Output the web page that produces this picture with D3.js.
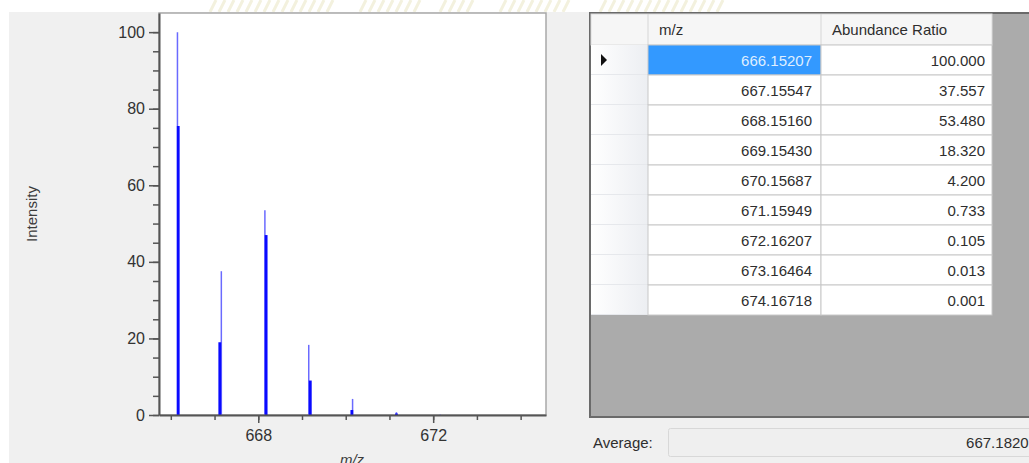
<!DOCTYPE html>
<meta charset="utf-8">
<script src="https://d3js.org/d3.v7.min.js"></script>
<style>
  body { margin: 0; background: #fff; }
  text { font-family: "Liberation Sans", Arial, sans-serif; }
</style>
<body>
  <div id="container"></div>
</body>
<script>
    // isotope pattern: centroid m/z and abundance ratio (table + thin sticks)
    var mz = [666.15207, 667.15547, 668.15160, 669.15430, 670.15687, 671.15949, 672.16207, 673.16464, 674.16718];
    var ratio = [100.000, 37.557, 53.480, 18.320, 4.200, 0.733, 0.105, 0.013, 0.001];
    var mzLabels = ["666.15207", "667.15547", "668.15160", "669.15430", "670.15687", "671.15949", "672.16207", "673.16464", "674.16718"];
    var ratioLabels = ["100.000", "37.557", "53.480", "18.320", "4.200", "0.733", "0.105", "0.013", "0.001"];

    // second (thick) stick series
    var profileMz = [666.17, 667.12, 668.18, 669.19, 670.14, 671.16];
    var profileInt = [75.5, 19.0, 47.0, 9.0, 1.3, 0.4];

    var yMajor = [0, 20, 40, 60, 80, 100];
    var yMinor = d3.range(0, 101, 5);
    var xMajor = [668, 672];
    var xMinor = [666, 667, 668, 669, 670, 671, 672, 673, 674];
    var columns = ["m/z", "Abundance Ratio"];
    var averageLabel = "Average:";
    var averageValue = "667.18209";

    var W = 1029, H = 463;
    var svg = d3.select("#container")
      .append("svg")
      .attr("width", W)
      .attr("height", H);

    // faint watermark band at the top
    var wm = svg.append("g").attr("stroke", "#f3f1de").attr("stroke-width", 3).attr("fill", "none");
    [[210, 330], [360, 420], [440, 470], [500, 570], [600, 720]].forEach(function (r) {
      for (var xx = r[0]; xx < r[1]; xx += 9) {
        wm.append("line").attr("x1", xx).attr("y1", 12).attr("x2", xx + 6).attr("y2", 0);
      }
    });

    // panel background
    svg.append("rect").attr("x", 9).attr("y", 12).attr("width", W - 9).attr("height", H - 12).attr("fill", "#f0f0f0");

    // ---- spectrum plot ----
    var pLeft = 159, pRight = 546, pTop = 13, pBottom = 415;
    var x = d3.scaleLinear().domain([665.73, 674.58]).range([pLeft, pRight]);
    var y = d3.scaleLinear().domain([0, 105]).range([pBottom, pTop]);

    svg.append("rect")
      .attr("x", pLeft).attr("y", pTop)
      .attr("width", pRight - pLeft).attr("height", pBottom - pTop)
      .attr("fill", "#fff").attr("stroke", "#a8a8a8").attr("stroke-width", 1.5);

    // thin sticks
    svg.append("g")
      .selectAll("line")
      .data(mz.map(function (m, i) { return {m: m, v: ratio[i]}; }))
      .enter()
      .append("line")
        .attr("x1", function (d) { return x(d.m); })
        .attr("x2", function (d) { return x(d.m); })
        .attr("y1", y(0))
        .attr("y2", function (d) { return y(d.v); })
        .attr("stroke", "#6a6aff")
        .attr("stroke-width", 1.5);

    // thick sticks
    svg.append("g")
      .selectAll("line")
      .data(profileMz.map(function (m, i) { return {m: m, v: profileInt[i]}; }))
      .enter()
      .append("line")
        .attr("x1", function (d) { return x(d.m); })
        .attr("x2", function (d) { return x(d.m); })
        .attr("y1", y(0))
        .attr("y2", function (d) { return y(d.v); })
        .attr("stroke", "#0a0aff")
        .attr("stroke-width", 2.8);

    // y axis: minor then major ticks
    svg.append("g")
      .attr("transform", "translate(" + pLeft + ",0)")
      .call(d3.axisLeft(y).tickValues(yMinor).tickSize(6).tickSizeOuter(0).tickFormat(""))
      .call(function (g) { g.select(".domain").remove(); });
    svg.append("g")
      .attr("transform", "translate(" + pLeft + ",0)")
      .call(d3.axisLeft(y).tickValues(yMajor).tickSize(10).tickSizeOuter(0).tickPadding(4));

    // x axis
    svg.append("g")
      .attr("transform", "translate(0," + pBottom + ")")
      .call(d3.axisBottom(x).tickValues(xMinor).tickSize(5).tickSizeOuter(0).tickFormat(""))
      .call(function (g) { g.select(".domain").remove(); });
    svg.append("g")
      .attr("transform", "translate(0," + pBottom + ")")
      .call(d3.axisBottom(x).tickValues(xMajor).tickSize(8).tickSizeOuter(0).tickPadding(7));

    svg.selectAll(".tick line").attr("stroke", "#555").attr("stroke-width", 1.5);
    svg.selectAll(".domain").attr("stroke", "#555").attr("stroke-width", 2);
    svg.selectAll(".tick text").attr("font-size", 16).attr("fill", "#333")
      .attr("font-family", "'Liberation Sans', Arial, sans-serif");

    // axis titles
    svg.append("text")
      .attr("transform", "translate(37," + ((pTop + pBottom) / 2) + ") rotate(-90)")
      .attr("text-anchor", "middle")
      .attr("font-size", 15)
      .attr("fill", "#3c3c3c")
      .text("Intensity");
    svg.append("text")
      .attr("x", 352).attr("y", 465)
      .attr("text-anchor", "middle")
      .attr("font-size", 15)
      .attr("font-style", "italic")
      .attr("fill", "#3c3c3c")
      .text("m/z");

    // ---- table ----
    var colX = [591, 648, 821, 992];
    var ty = 14, headH = 31, rowH = 30;
    svg.append("rect")
      .attr("x", 590).attr("y", 13).attr("width", W - 590 + 5).attr("height", 404)
      .attr("fill", "#ababab").attr("stroke", "#6a6a6a").attr("stroke-width", 2);

    var grad = svg.append("defs").append("linearGradient").attr("id", "rh");
    grad.append("stop").attr("offset", "0%").attr("stop-color", "#ffffff");
    grad.append("stop").attr("offset", "100%").attr("stop-color", "#eceef2");

    // header row
    svg.append("rect").attr("x", colX[0]).attr("y", ty).attr("width", colX[3] - colX[0]).attr("height", headH)
      .attr("fill", "#f6f6f6").attr("stroke", "#dcdcdc");
    svg.append("line").attr("x1", colX[1]).attr("x2", colX[1]).attr("y1", ty).attr("y2", ty + headH).attr("stroke", "#d6d6d6");
    svg.append("line").attr("x1", colX[2]).attr("x2", colX[2]).attr("y1", ty).attr("y2", ty + headH).attr("stroke", "#d6d6d6");
    svg.selectAll(".colhead")
      .data(columns)
      .enter()
      .append("text")
        .attr("class", "colhead")
        .attr("x", function (d, i) { return colX[i + 1] + 11; })
        .attr("y", ty + 21)
        .attr("font-size", 15)
        .attr("fill", "#2e2e2e")
        .text(function (d) { return d; });

    var rows = svg.append("g").selectAll("g")
      .data(mzLabels.map(function (m, i) { return {m: m, r: ratioLabels[i], i: i}; }))
      .enter()
      .append("g")
        .attr("transform", function (d) { return "translate(0," + (ty + headH + d.i * rowH) + ")"; });

    rows.append("rect")
      .attr("x", colX[0]).attr("y", 0).attr("width", colX[1] - colX[0]).attr("height", rowH)
      .attr("fill", "url(#rh)");
    rows.append("line")
      .attr("x1", colX[0]).attr("x2", colX[1]).attr("y1", rowH - 0.5).attr("y2", rowH - 0.5)
      .attr("stroke", "#e6e8ec");
    rows.append("rect")
      .attr("x", colX[1]).attr("y", 0).attr("width", colX[2] - colX[1]).attr("height", rowH)
      .attr("fill", function (d) { return d.i === 0 ? "#3399ff" : "#fff"; })
      .attr("stroke", "#c8c8c8");
    rows.append("rect")
      .attr("x", colX[2]).attr("y", 0).attr("width", colX[3] - colX[2]).attr("height", rowH)
      .attr("fill", "#fff")
      .attr("stroke", "#c8c8c8");
    rows.append("text")
      .attr("x", colX[2] - 9).attr("y", 21)
      .attr("text-anchor", "end")
      .attr("font-size", 15)
      .attr("fill", function (d) { return d.i === 0 ? "#dfeeff" : "#2e2e2e"; })
      .text(function (d) { return d.m; });
    rows.append("text")
      .attr("x", colX[3] - 7).attr("y", 21)
      .attr("text-anchor", "end")
      .attr("font-size", 15)
      .attr("fill", "#2e2e2e")
      .text(function (d) { return d.r; });

    // current-row marker
    svg.append("path")
      .attr("d", "M601," + (ty + headH + 9) + " l6,6 l-6,6 z")
      .attr("fill", "#111");

    // average box
    svg.append("text")
      .attr("x", 593).attr("y", 448)
      .attr("font-size", 15)
      .attr("fill", "#2e2e2e")
      .text(averageLabel);
    svg.append("rect")
      .attr("x", 668.5).attr("y", 428.5).attr("width", 400).attr("height", 28).attr("rx", 2)
      .attr("fill", "#efefef").attr("stroke", "#d8d8d8");
    svg.append("text")
      .attr("x", 1037).attr("y", 448)
      .attr("text-anchor", "end")
      .attr("font-size", 15)
      .attr("fill", "#2e2e2e")
      .text(averageValue);
</script>
